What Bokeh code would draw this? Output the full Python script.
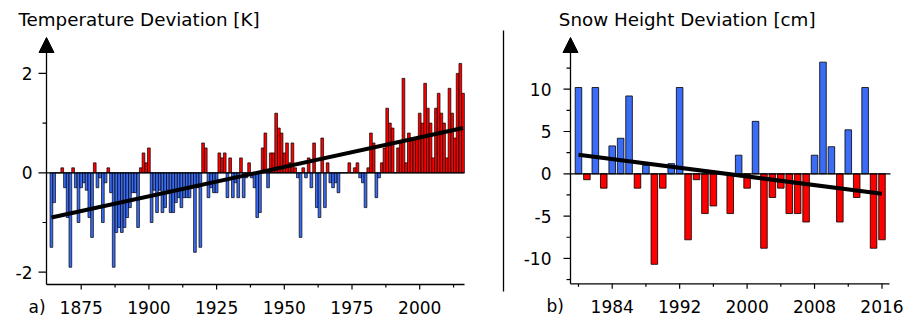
from bokeh.plotting import figure
from bokeh.layouts import row
from bokeh.models import Range1d, ColumnDataSource
from bokeh.core.properties import value
from bokeh.embed import file_html
from bokeh.resources import INLINE

# ---------------- data ----------------
temp_years = list(range(1864, 2017))
temp_dev = [
    -1.5, -0.6, 0.0, 0.0, 0.1, -0.3, -0.9, -1.9, 0.1, -0.3,      # 1864-1873
    -1.0, -0.3, -0.2, -0.35, -0.9, -1.3, 0.2, -0.3, -0.1, -1.0,  # 1874-1883
    -0.2, 0.1, -0.4, -1.9, -1.2, -1.1, -1.2, -1.1, -0.9, -0.7,   # 1884-1893
    -0.4, -0.4, -1.1, 0.1, 0.4, 0.2, 0.5, -1.0, -0.35, -0.8,     # 1894-1903
    -0.35, -0.8, -0.7, -0.35, -0.8, -0.8, -0.6, -0.5, -0.7, -0.5,  # 1904-1913
    -0.5, -0.5, -0.3, -1.6, -0.3, -1.5, 0.6, 0.5, -0.5, -0.3,    # 1914-1923
    -0.4, -0.4, 0.4, 0.3, 0.4, -0.5, 0.3, -0.5, -0.2, -0.5,      # 1924-1933
    0.3, -0.5, -0.1, 0.2, -0.1, -0.3, -0.9, -0.8, 0.5, 0.8,      # 1934-1943
    -0.3, 0.4, 0.4, 1.2, 0.9, 0.8, 0.4, 0.6, 0.2, 0.6,           # 1944-1953
    0.1, -0.1, -1.3, 0.1, -0.1, 0.3, -0.3, 0.6, -0.7, -0.9,      # 1954-1963
    0.7, -0.7, 0.2, -0.2, -0.3, -0.2, -0.4, 0.0, 0.0, 0.0,       # 1964-1973
    0.2, 0.0, 0.1, 0.2, -0.1, -0.2, -0.7, 0.1, 0.8, 0.6,         # 1974-1983
    -0.5, -0.1, 0.2, 0.5, 1.3, 1.0, 0.9, 0.0, 0.5, 0.6,          # 1984-1993
    1.9, 0.2, 0.8, 0.7, 0.7, 0.7, 1.2, 1.0, 1.8, 1.3,            # 1994-2003
    1.0, 0.3, 1.3, 1.6, 1.2, 1.0, 0.3, 1.7, 1.2, 0.7,            # 2004-2013
    2.0, 2.2, 1.6,                                               # 2014-2016
]
temp_trend_years = [1864, 2016]
temp_trend_vals = [-0.9, 0.9]

snow_years = list(range(1980, 2017))
snow_dev = [
    10.2, -0.7, 10.2, -1.7, 3.3, 4.2, 9.2, -1.7, 1.0, -10.7,     # 1980-1989
    -1.7, 1.2, 10.2, -7.8, -0.7, -4.7, -3.8, 0.0, -4.7, 2.2,     # 1990-1999
    -1.7, 6.2, -8.8, -2.8, -1.7, -4.7, -4.7, -5.7, 2.2, 13.2,    # 2000-2009
    3.2, -5.7, 5.2, -2.8, 10.2, -8.8, -7.8,                      # 2010-2016
]
snow_trend_years = [1980, 2016]
snow_trend_vals = [2.24, -2.36]

temp_xticks = [1875, 1900, 1925, 1950, 1975, 2000]
temp_xtick_labels = ["1875", "1900", "1925", "1950", "1975", "2000"]
temp_xminor = [1887.5, 1912.5, 1937.5, 1962.5, 1987.5, 2012.5]
temp_yticks = [-2, 0, 2]
temp_ytick_labels = ["-2", "0", "2"]
temp_yminor = [-1, 1]

snow_xticks = [1984, 1992, 2000, 2008, 2016]
snow_xtick_labels = ["1984", "1992", "2000", "2008", "2016"]
snow_xminor = [1980, 1988, 1996, 2004, 2012]
snow_yticks = [-10, -5, 0, 5, 10]
snow_ytick_labels = ["-10", "-5", "0", "5", "10"]
snow_yminor = [-12.5, -7.5, -2.5, 2.5, 7.5, 12.5]

assert len(temp_dev) == len(temp_years)
assert len(snow_dev) == len(snow_years)

FONT = "DejaVu Sans"
BLUE = "#3b6cf6"
RED = "#ff0000"
H = 321
LW = 505
RW = 910 - LW


class Panel:
    """Pixel <-> data helpers; the frame covers the whole figure."""
    def __init__(self, x0_canvas, x_ref_px, x_ref_val, x_ppu, y_zero_px, y_ppu, width):
        self.x0 = x0_canvas
        self.xr, self.xv, self.xs = x_ref_px, x_ref_val, x_ppu
        self.yz, self.ys = y_zero_px, y_ppu
        self.w = width

    def X(self, px):
        return self.xv + (px - self.xr) / self.xs

    def Y(self, py):
        return (self.yz - py) / self.ys

    def dx(self, d):
        return d / self.xs

    def dy(self, d):
        return d / self.ys

    def fig(self):
        p = figure(width=self.w, height=H, output_backend="svg", toolbar_location=None,
                   x_axis_type=None, y_axis_type=None,
                   x_range=Range1d(self.X(self.x0), self.X(self.x0 + self.w)),
                   y_range=Range1d(self.Y(H), self.Y(0)),
                   min_border=0, min_border_left=0, min_border_right=0,
                   min_border_top=0, min_border_bottom=0)
        p.outline_line_color = None
        p.background_fill_color = "white"
        p.border_fill_color = "white"
        p.xgrid.grid_line_color = None
        p.ygrid.grid_line_color = None
        return p


def draw_axes(p, P, ax_x, ax_y, x_end, xt, xl, xm, yt, yl, ym,
              ytick_major, ytick_minor, ylabel_right, xlabel_base):
    # axis lines
    p.segment(x0=[P.X(ax_x), P.X(ax_x)], y0=[P.Y(ax_y), P.Y(ax_y)],
              x1=[P.X(ax_x), P.X(x_end)], y1=[P.Y(45), P.Y(ax_y)],
              line_color="black", line_width=1.3)
    # arrow head on the value axis
    p.patch(x=[P.X(ax_x - 7.5), P.X(ax_x), P.X(ax_x + 7.5)],
            y=[P.Y(52), P.Y(37), P.Y(52)], fill_color="black", line_color="black")
    # x ticks
    yb = P.Y(ax_y)
    p.segment(x0=xt, x1=xt, y0=[yb] * len(xt), y1=[yb - P.dy(5)] * len(xt),
              line_color="black", line_width=1.2)
    p.segment(x0=xm, x1=xm, y0=[yb] * len(xm), y1=[yb - P.dy(3)] * len(xm),
              line_color="black", line_width=1.2)
    p.text(x=xt, y=[P.Y(xlabel_base)] * len(xt), text=xl,
           text_font=value(FONT), text_font_size=value("17px"), text_color="black",
           text_align="center", text_baseline="alphabetic")
    # y ticks
    xa = P.X(ax_x)
    p.segment(x0=[xa] * len(yt), x1=[xa - P.dx(ytick_major)] * len(yt), y0=yt, y1=yt,
              line_color="black", line_width=1.2)
    p.segment(x0=[xa] * len(ym), x1=[xa - P.dx(ytick_minor)] * len(ym), y0=ym, y1=ym,
              line_color="black", line_width=1.2)
    p.text(x=[P.X(ylabel_right)] * len(yt), y=yt, text=yl,
           text_font=value(FONT), text_font_size=value("17px"), text_color="black",
           text_align="right", text_baseline="middle")


# ---------------- left panel ----------------
PL = Panel(0, 80.7, 1875, 2.708, 172.3, 49.7, LW)
p1 = PL.fig()
src1 = ColumnDataSource(dict(
    x=temp_years, top=temp_dev,
    color=[RED if v > 0 else BLUE for v in temp_dev]))
p1.vbar(x="x", width=1.0, top="top", bottom=0, fill_color="color",
        line_color="black", line_width=0.7, source=src1)
p1.segment(x0=[PL.X(46)], x1=[PL.X(464)], y0=[0], y1=[0], line_color="black", line_width=1.3)
p1.line(temp_trend_years, temp_trend_vals, line_color="black", line_width=4)
draw_axes(p1, PL, 46, 284, 464, temp_xticks, temp_xtick_labels, temp_xminor,
          temp_yticks, temp_ytick_labels, temp_yminor, 8, 4, 32, 306.7)
# separator
p1.segment(x0=[PL.X(503)], x1=[PL.X(503)], y0=[PL.Y(30)], y1=[PL.Y(291)],
           line_color="black", line_width=1.3)
p1.text(x=[PL.X(18)], y=[PL.Y(19.3)], text=["Temperature Deviation [K]"],
        text_font=value(FONT), text_font_size=value("18.3px"), text_color="black",
        text_align="left", text_baseline="alphabetic")
p1.text(x=[PL.X(28)], y=[PL.Y(306.7)], text=["a)"],
        text_font=value(FONT), text_font_size=value("17px"), text_color="black",
        text_align="left", text_baseline="alphabetic")

# ---------------- right panel ----------------
PR = Panel(LW, 611.7, 1984, 8.431, 173.3, 8.46, RW)
p2 = PR.fig()
src2 = ColumnDataSource(dict(
    x=snow_years, top=snow_dev,
    color=[BLUE if v > 0 else RED for v in snow_dev]))
p2.vbar(x="x", width=0.78, top="top", bottom=0, fill_color="color",
        line_color="black", line_width=0.8, source=src2)
p2.segment(x0=[PR.X(570)], x1=[PR.X(890)], y0=[0], y1=[0], line_color="black", line_width=1.3)
p2.line(snow_trend_years, snow_trend_vals, line_color="black", line_width=4)
draw_axes(p2, PR, 570, 283.3, 889, snow_xticks, snow_xtick_labels, snow_xminor,
          snow_yticks, snow_ytick_labels, snow_yminor, 7, 4, 551, 305.5)
p2.text(x=[PR.X(558.3)], y=[PR.Y(19)], text=["Snow Height Deviation [cm]"],
        text_font=value(FONT), text_font_size=value("18.3px"), text_color="black",
        text_align="left", text_baseline="alphabetic")
p2.text(x=[PR.X(546)], y=[PR.Y(305.4)], text=["b)"],
        text_font=value(FONT), text_font_size=value("17px"), text_color="black",
        text_align="left", text_baseline="alphabetic")

layout = row(p1, p2)
open("out.html", "w").write(file_html(layout, INLINE))
